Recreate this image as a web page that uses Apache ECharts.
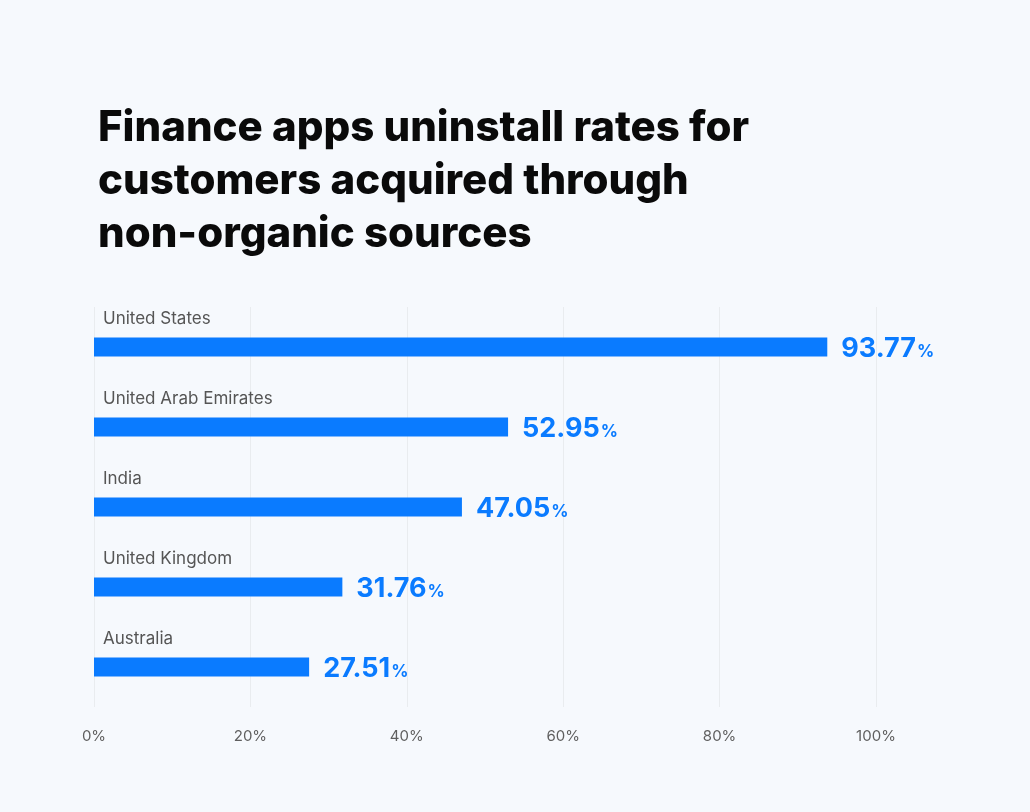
<!DOCTYPE html>
<html>
<head>
<meta charset="utf-8">
<script src="https://cdn.jsdelivr.net/npm/echarts@6/dist/echarts.min.js"></script>
<style>
html,body{margin:0;padding:0;background:#f6f9fd;}
#chart{width:1030px;height:812px;}
</style>
</head>
<body>
<div id="chart"></div>
<script>
const titleLines = ['Finance apps uninstall rates for', 'customers acquired through', 'non-organic sources'];
const countries = ['United States', 'United Arab Emirates', 'India', 'United Kingdom', 'Australia'];
const rates = [93.77, 52.95, 47.05, 31.76, 27.51];
const xTicks = [0, 20, 40, 60, 80, 100];

const chart = echarts.init(document.getElementById('chart'));
chart.setOption({
  backgroundColor: '#f6f9fd',
  animation: false,
  title: {
    text: titleLines.join('\n'),
    left: 93,
    top: 97,
    textStyle: {
      fontFamily: 'Inter',
      fontWeight: 800,
      fontSize: 42,
      lineHeight: 53,
      color: '#0a0a0a'
    }
  },
  grid: { left: 94, right: 154, top: 307, bottom: 105, containLabel: false },
  xAxis: {
    type: 'value',
    min: xTicks[0],
    max: xTicks[xTicks.length - 1],
    interval: 20,
    axisLine: { show: false },
    axisTick: { show: false },
    splitLine: { show: true, lineStyle: { color: '#e9ecef', width: 1 } },
    axisLabel: {
      formatter: '{value}%',
      color: '#5f5f5f',
      fontFamily: 'Inter',
      fontSize: 15,
      margin: 22
    }
  },
  yAxis: {
    type: 'category',
    data: countries,
    inverse: true,
    axisLine: { show: false },
    axisTick: { show: false },
    splitLine: { show: false },
    axisLabel: {
      inside: true,
      margin: 9,
      align: 'left',
      verticalAlign: 'bottom',
      lineHeight: 20,
      padding: [0, 0, 18, 0],
      color: '#555555',
      fontFamily: 'Inter',
      fontSize: 17
    },
    z: 10
  },
  series: [{
    type: 'bar',
    data: rates,
    barWidth: 19,
    itemStyle: { color: '#0a7bff' },
    label: {
      show: true,
      position: 'right',
      distance: 14,
      formatter: p => '{v|' + p.value.toFixed(2) + '}{p|%}',
      rich: {
        v: { fontFamily: 'Inter', fontWeight: 700, fontSize: 27, color: '#0a7bff', padding: [4, 0, 0, 0] },
        p: { fontFamily: 'Inter', fontWeight: 700, fontSize: 17, color: '#0a7bff', padding: [10, 0, 0, 1] }
      }
    }
  }]
});
</script>
</body>
</html>
